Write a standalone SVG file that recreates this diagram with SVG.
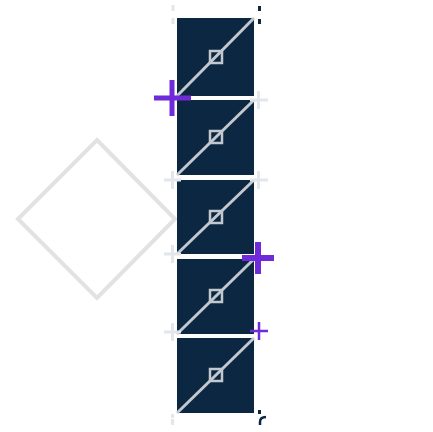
<svg xmlns="http://www.w3.org/2000/svg" width="433" height="432" viewBox="0 0 433 432">
<defs>
<style>
.cell{fill:#0b2742}
.diag{stroke:#c3c8ce;stroke-width:3;fill:none}
.mark{fill:none;stroke:#c3c8ce;stroke-width:2.5}
.gx{stroke:#e3e6ea;stroke-width:3;fill:none}
.px{stroke:#6f2bd9;fill:none}
.sep{stroke:#ffffff;stroke-width:4}
</style>
</defs>
<rect width="433" height="432" fill="#ffffff"/>
<g id="diamond"><polygon points="97,140 175,219 97,298 18,219" fill="none" stroke="#e2e2e2" stroke-width="4"/></g>
<g id="cell1"><rect class="cell" x="177" y="18" width="77" height="78"/><line class="diag" x1="177" y1="96" x2="254" y2="18"/><rect class="mark" x="210" y="51" width="12" height="12"/></g>
<g id="cell2"><rect class="cell" x="177" y="100" width="77" height="75"/><line class="diag" x1="177" y1="175" x2="254" y2="100"/><rect class="mark" x="210" y="131" width="12" height="12"/></g>
<g id="cell3"><rect class="cell" x="177" y="180" width="77" height="74"/><line class="diag" x1="177" y1="254" x2="254" y2="180"/><rect class="mark" x="210" y="211" width="12" height="12"/></g>
<g id="cell4"><rect class="cell" x="177" y="259" width="77" height="75"/><line class="diag" x1="177" y1="334" x2="254" y2="259"/><rect class="mark" x="210" y="290" width="12" height="12"/></g>
<g id="cell5"><rect class="cell" x="177" y="338" width="77" height="75"/><line class="diag" x1="177" y1="413" x2="254" y2="338"/><rect class="mark" x="210" y="369" width="12" height="12"/></g>
<g id="connectors">
<path class="gx" d="M164,180h17M172.5,171v18"/>
<path class="gx" d="M164,254h17M172.5,245v18"/>
<path class="gx" d="M164,332h17M172.5,323v18"/>
<path class="gx" d="M250,100h18M258.5,91v18"/>
<path class="gx" d="M250,180h18M258.5,171v18"/>
<rect x="171.5" y="5" width="3" height="6" fill="#e3e6ea"/>
<rect x="171.5" y="18" width="3" height="6" fill="#e3e6ea"/>
<rect x="258" y="6" width="3" height="5" fill="#0b2742"/>
<rect x="258" y="19" width="3" height="5" fill="#0b2742"/>
<rect x="171" y="414" width="3" height="4" fill="#e3e6ea"/>
<rect x="171" y="419" width="3" height="6" fill="#e3e6ea"/>
<rect x="258" y="410" width="3" height="4" fill="#0b2742"/>
<path d="M266,417 q-6,0 -6,5 v3" stroke="#0b2742" stroke-width="2.5" fill="none"/>
<path class="px" stroke-width="5" d="M154,98h37M172,80v36"/>
<path class="px" stroke-width="6" d="M242,258h32M258,242v32"/>
<path class="px" stroke-width="2.5" d="M250,331h18M259,322v18"/>
</g>
</svg>
